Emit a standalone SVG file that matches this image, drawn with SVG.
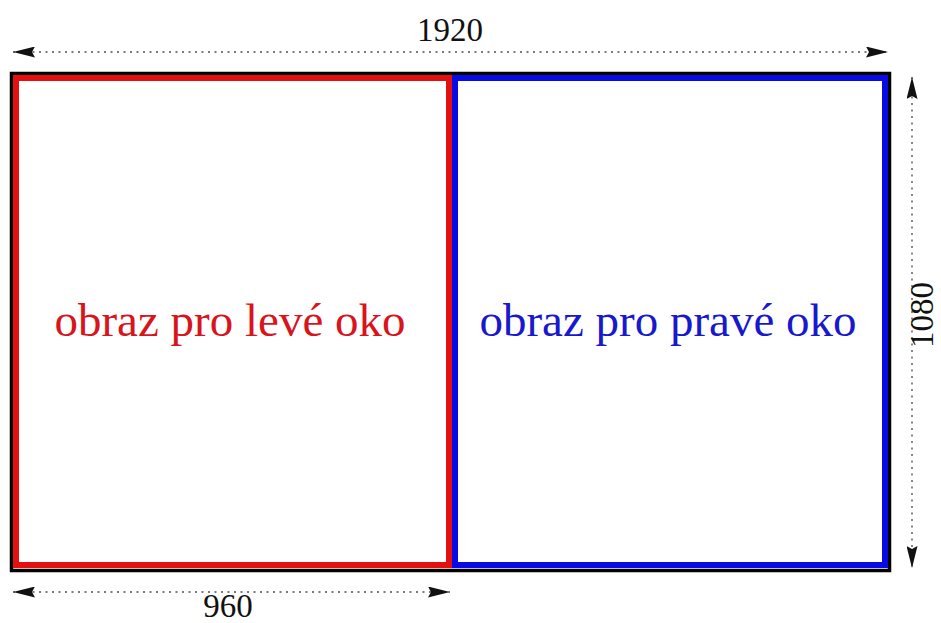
<svg xmlns="http://www.w3.org/2000/svg" width="941" height="623" viewBox="0 0 941 623">
  <style>
    .dim { stroke: #7a7a7a; stroke-width: 1.8; stroke-dasharray: 2 4.5; fill: none; }
    .lbl { font-family: "Liberation Serif", "Times New Roman", serif; }
    .dimtxt { font-size: 33px; fill: #111; }
    .big { font-size: 47px; text-anchor: middle; }
  </style>
  <defs>
    <marker id="ah" viewBox="0 0 22 11" refX="22" refY="5.5" markerWidth="22" markerHeight="11" markerUnits="userSpaceOnUse" orient="auto-start-reverse">
      <path d="M0,0 L22,5.5 L0,11 L3,5.5 Z" fill="#111"/>
    </marker>
  </defs>
  <rect width="941" height="623" fill="#ffffff"/>
  <g id="frame">
    <rect x="11.5" y="73.5" width="878" height="497" fill="none" stroke="#000" stroke-width="3.5"/>
  </g>
  <g id="left-eye">
    <rect x="16" y="78" width="433" height="487" fill="#fff" stroke="#e41010" stroke-width="6"/>
    <text class="lbl big" x="230" y="336" fill="#d8141c">obraz pro levé oko</text>
  </g>
  <g id="right-eye">
    <rect x="455" y="78" width="430" height="487" fill="#fff" stroke="#0a0ae6" stroke-width="6"/>
    <text class="lbl big" x="668" y="336" fill="#1818cc">obraz pro pravé oko</text>
  </g>
  <g id="connectors">
    <line class="dim" x1="13" y1="52" x2="888" y2="52" marker-start="url(#ah)" marker-end="url(#ah)"/>
    <line class="dim" x1="13" y1="592" x2="450" y2="592" marker-start="url(#ah)" marker-end="url(#ah)"/>
    <line class="dim" x1="912" y1="77" x2="912" y2="568" marker-start="url(#ah)" marker-end="url(#ah)"/>
  </g>
  <g id="dim-labels">
    <text class="lbl dimtxt" x="450" y="41" text-anchor="middle">1920</text>
    <text class="lbl dimtxt" x="228" y="617" text-anchor="middle">960</text>
    <text class="lbl dimtxt" transform="translate(933 315) rotate(-90)" text-anchor="middle">1080</text>
  </g>
</svg>
